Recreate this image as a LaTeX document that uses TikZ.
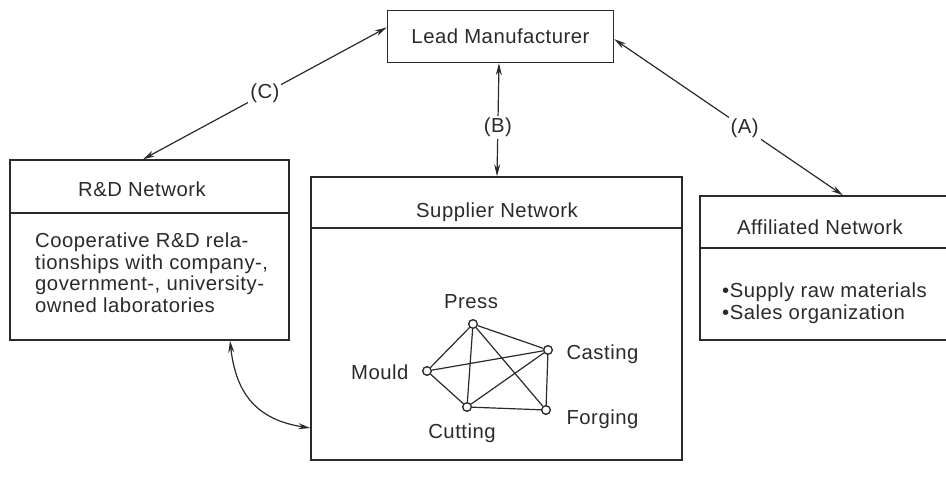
\documentclass[tikz,border=0pt]{standalone}
\usepackage{fontspec}
\setmainfont{Liberation Sans}[LetterSpace=2.5]
\usetikzlibrary{arrows.meta,calc}
\definecolor{ink}{HTML}{2A2A2A}
\begin{document}
\begin{tikzpicture}[x=1pt,y=-1pt,
  every node/.style={font=\fontsize{20.3}{21.5}\selectfont, text=ink},
  box/.style={draw=ink, line width=1.4pt, rectangle, inner sep=0pt},
  link/.style={draw=ink, line width=1.2pt, {Stealth[length=12pt,width=6pt]}-{Stealth[length=12pt,width=6pt]}},
  lbl/.style={fill=white, inner sep=2pt},
  vtx/.style={circle, draw=ink, line width=1.2pt, fill=white, inner sep=0pt, minimum size=8.5pt},
  edge/.style={draw=ink, line width=1.2pt}]
\useasboundingbox (0,0) rectangle (946,478);
% boxes
\node[box, minimum width=226pt, minimum height=52pt] (lead) at (500.5,36.5) {Lead Manufacturer};
\node[box, minimum width=279pt, minimum height=180pt] (rd) at (149.5,250) {};
\node[box, minimum width=371pt, minimum height=283pt] (sup) at (496.5,318.5) {};
\node[box, minimum width=252pt, minimum height=144pt] (aff) at (826,268) {};
% dividers
\draw[draw=ink, line width=1.4pt] (rd.west |- 0,213) -- (rd.east |- 0,213);
\draw[draw=ink, line width=1.4pt] (sup.west |- 0,228) -- (sup.east |- 0,228);
\draw[draw=ink, line width=1.4pt] (aff.west |- 0,248) -- (aff.east |- 0,248);
% headers
\node (rdh) at (142,189) {R\&D Network};
\node (suph) at (497,212) {Supplier Network};
\node (affh) at (820,227) {Affiliated Network};
% body texts
\node[anchor=north west, align=left, inner sep=0pt] (rdt) at (35,233) {Cooperative R\&D rela-\\tionships with company-,\\government-, university-\\owned laboratories};
\node[anchor=north west, align=left, inner sep=0pt] (afft) at (722,283) {•Supply raw materials\\•Sales organization};
% main links
\coordinate (lc) at ($(lead.north west)!0.33!(lead.south west)$);
\coordinate (la) at ($(lead.north east)!0.55!(lead.south east)$);
\coordinate (rc) at (rd.north -| 143,0);
\coordinate (ab) at (aff.north -| 843,0);
\coordinate (lb) at (lead.south -| 499,0);
\coordinate (sb) at (sup.north -| 497,0);
\draw[link] (lc) -- node[lbl, pos=0.5] (C) {(C)} (rc);
\draw[link] (lb) -- node[lbl, pos=0.57] (B) {(B)} (sb);
\draw[link] (la) -- node[lbl, pos=0.57] (A) {(A)} (ab);
% curved link
\coordinate (rdb) at (rd.south -| 230,0);
\coordinate (supl) at (sup.west |- 0,428);
\draw[link] (rdb) .. controls (236,395) and (258,420) .. (supl);
% supplier graph
\node[vtx] (press) at (473,324) {};
\node[vtx] (casting) at (548,350) {};
\node[vtx] (mould) at (427,371) {};
\node[vtx] (cutting) at (467,407) {};
\node[vtx] (forging) at (546,410) {};
\draw[edge] (press) -- (mould);
\draw[edge] (press) -- (cutting);
\draw[edge] (press) -- (casting);
\draw[edge] (press) -- (forging);
\draw[edge] (mould) -- (casting);
\draw[edge] (mould) -- (cutting);
\draw[edge] (cutting) -- (casting);
\draw[edge] (cutting) -- (forging);
\draw[edge] (casting) -- (forging);
\node[vtx] at (press) {};
\node[vtx] at (casting) {};
\node[vtx] at (mould) {};
\node[vtx] at (cutting) {};
\node[vtx] at (forging) {};
\node (pressl) at (471,302) {Press};
\node[anchor=west] (castl) at (563,354) {Casting};
\node[anchor=east] (mouldl) at (412,372) {Mould};
\node (cutl) at (462,433) {Cutting};
\node[anchor=west] (forgl) at (563,419) {Forging};
\end{tikzpicture}
\end{document}
